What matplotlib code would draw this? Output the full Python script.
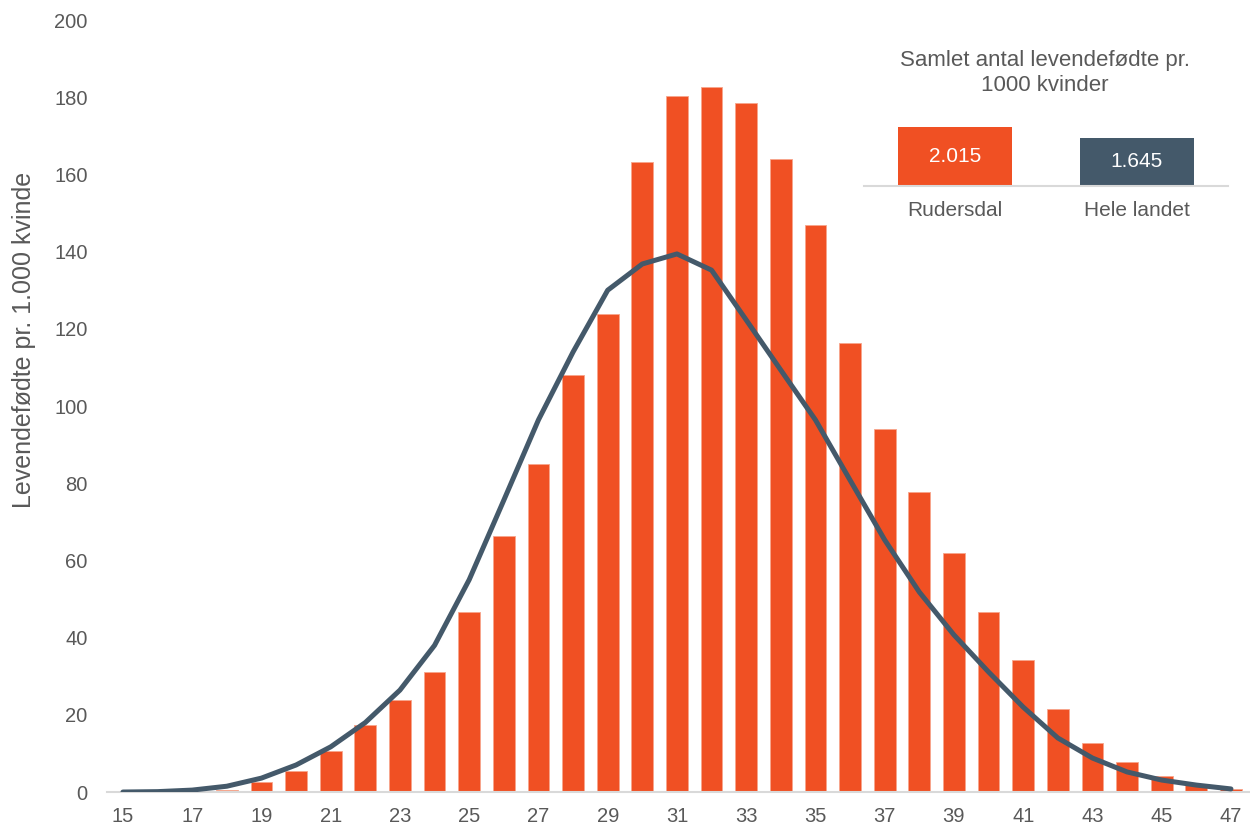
import matplotlib
matplotlib.use("Agg")
import matplotlib.pyplot as plt

# age-specific fertility, levendefødte pr. 1.000 kvinder
ages = list(range(15, 48))
rudersdal = [0, 0, 0, 0.5, 2.5, 5.4, 10.6, 17.4, 23.8, 31.1, 46.6, 66.3, 85.0, 108.0,
             123.8, 163.2, 180.3, 182.6, 178.5, 164.0, 146.9, 116.3, 94.0, 77.7,
             61.9, 46.6, 34.2, 21.5, 12.7, 7.8, 4.1, 2.1, 0.8]
hele_landet = [0.0, 0.1, 0.5, 1.5, 3.6, 7.0, 11.7, 18.0, 26.4, 38.0, 55.0, 75.6, 96.4,
               114.0, 130.0, 136.8, 139.4, 135.2, 122.3, 109.3, 96.4, 80.8, 65.3,
               51.8, 40.7, 31.1, 22.0, 14.0, 8.8, 5.2, 3.1, 1.8, 0.8]

inset_names = ["Rudersdal", "Hele landet"]
inset_vals = [2015, 1645]
inset_labels = ["2.015", "1.645"]

ORANGE, SLATE, TXT, AXL = "#F05023", "#44596A", "#595959", "#D9D9D9"
plt.rcParams["font.family"] = ["Liberation Sans", "DejaVu Sans"]

fig = plt.figure(figsize=(12.5, 8.27), dpi=100)
ax = fig.add_axes([0.0856, 0.0423, 0.9144, 0.9335])
ax.bar(ages, rudersdal, width=0.63, color=ORANGE, edgecolor="#F7A58C", lw=0.6, zorder=2)
ax.plot(ages, hele_landet, color=SLATE, lw=3.6, solid_capstyle="round", zorder=3)
ax.set_xlim(14.54, 47.55)
ax.set_ylim(0, 200)
ax.set_xticks(range(15, 48, 2))
ax.set_yticks(range(0, 201, 20))
ax.tick_params(length=0, labelsize=14.5, colors=TXT)
ax.tick_params(axis="x", pad=11)
ax.tick_params(axis="y", pad=14)
for s in ["top", "right", "left"]:
    ax.spines[s].set_visible(False)
ax.spines["bottom"].set_color(AXL)
ax.spines["bottom"].set_linewidth(1.5)
fig.text(0.0195, 0.589, "Levendefødte pr. 1.000 kvinde", rotation=90, ha="center",
         va="center", fontsize=18, color=TXT)

# inset: samlet antal
ai = fig.add_axes([0.6912, 0.7751, 0.2912, 0.0713])
ai.bar([0, 1], inset_vals, width=0.626, color=[ORANGE, SLATE])
for i, (v, lab) in enumerate(zip(inset_vals, inset_labels)):
    ai.text(i, v / 2, lab, ha="center", va="center", color="white", fontsize=15)
ai.set_xlim(-0.5, 1.5)
ai.set_ylim(0, 2015)
ai.set_xticks([0, 1])
ai.set_xticklabels(inset_names)
ai.set_yticks([])
ai.tick_params(length=0, labelsize=15, colors=TXT, pad=11)
for s in ["top", "right", "left"]:
    ai.spines[s].set_visible(False)
ai.spines["bottom"].set_color(AXL)
ai.spines["bottom"].set_linewidth(1.5)
ai.patch.set_alpha(0)
fig.text(0.836, 0.9117, "Samlet antal levendefødte pr.\n1000 kvinder", ha="center",
         va="center", fontsize=16, color=TXT, linespacing=1.25)

fig.savefig("out.png", dpi=100, facecolor="white")
